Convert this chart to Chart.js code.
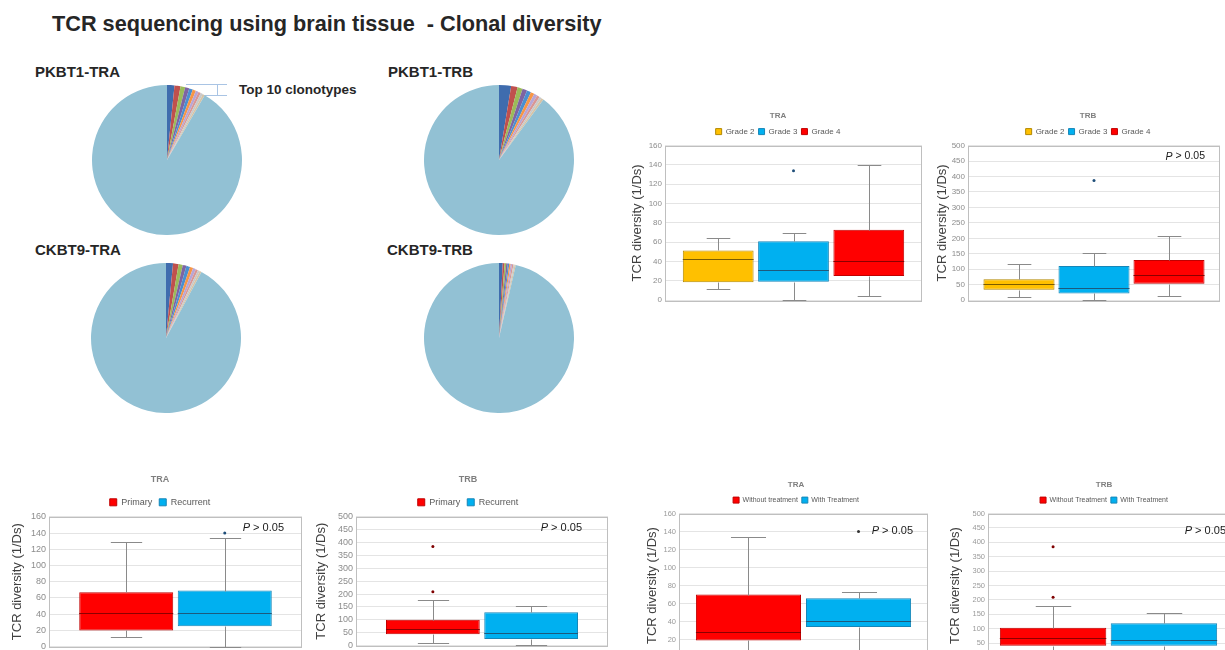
<!DOCTYPE html>
<html>
<head>
<meta charset="utf-8">
<script src="https://cdn.jsdelivr.net/npm/chart.js@4.4.1/dist/chart.umd.min.js"></script>
<style>
  html, body { margin: 0; padding: 0; background: #fff; }
  body { width: 1225px; height: 650px; overflow: hidden; position: relative;
         font-family: "Liberation Sans", Arial, sans-serif; }
  .txt { position: absolute; white-space: pre; line-height: 1; color: #262626; font-weight: bold; }
  #mainTitle { left: 52px; top: 13px; font-size: 21.7px; }
  .pieLabel { font-size: 15px; }
  #top10 { left: 239px; top: 83px; font-size: 13.5px; }
  canvas { position: absolute; }
  svg { position: absolute; left: 0; top: 0; }
</style>
</head>
<body>
<div id="mainTitle" class="txt">TCR sequencing using brain tissue  - Clonal diversity</div>
<div class="txt pieLabel" style="left:35px;top:64px">PKBT1-TRA</div>
<div class="txt pieLabel" style="left:388px;top:64px">PKBT1-TRB</div>
<div class="txt pieLabel" style="left:35px;top:242px">CKBT9-TRA</div>
<div class="txt pieLabel" style="left:387px;top:242px">CKBT9-TRB</div>
<div id="top10" class="txt">Top 10 clonotypes</div>
<svg width="240" height="110">
  <path d="M186 84.5 H227 M217.5 84 V95 M200 95.5 H227" stroke="#a9c4e4" stroke-width="1" fill="none"/>
</svg>

<canvas id="pie1" width="150" height="150" style="left:92px;top:85px"></canvas>
<canvas id="pie2" width="150" height="150" style="left:424px;top:85px"></canvas>
<canvas id="pie3" width="150" height="150" style="left:91px;top:263px"></canvas>
<canvas id="pie4" width="150" height="150" style="left:424px;top:263px"></canvas>

<canvas id="boxTraGrade"></canvas>
<canvas id="boxTrbGrade"></canvas>
<canvas id="boxTraStage"></canvas>
<canvas id="boxTrbStage"></canvas>
<canvas id="boxTraTreat"></canvas>
<canvas id="boxTrbTreat"></canvas>

<script>
// ---- Clonotype shares (%) : top 10 clonotypes, then all remaining clonotypes ----
const clonotypeLabels = ['Clone 1','Clone 2','Clone 3','Clone 4','Clone 5','Clone 6','Clone 7','Clone 8','Clone 9','Clone 10','Other clonotypes'];
const pkbt1Tra = [1.6, 1.3, 1.0, 0.9, 0.8, 0.7, 0.6, 0.55, 0.5, 0.45, 91.6];
const pkbt1Trb = [2.6, 1.4, 1.1, 1.0, 0.9, 0.8, 0.7, 0.6, 0.5, 0.5, 89.9];
const ckbt9Tra = [1.5, 1.2, 0.9, 0.8, 0.8, 0.7, 0.6, 0.5, 0.45, 0.4, 92.15];
const ckbt9Trb = [0.8, 0.4, 0.35, 0.35, 0.3, 0.3, 0.3, 0.3, 0.25, 0.25, 96.4];
const clonotypeColors = ['#3f6cae','#c0504d','#9bbb59','#7e64a2','#4a8fd0','#f79646',
                         '#b7a6d6','#d99694','#c9c9c9','#d6c3a5','#92c1d4'];

// ---- Box plot statistics: [min, Q1, median, Q3, max] per group ----
const gradeGroups = ['Grade 2', 'Grade 3', 'Grade 4'];
const stageGroups = ['Primary', 'Recurrent'];
const treatGroupsTra = ['Without treatment', 'With Treatment'];
const treatGroupsTrb = ['Without Treatment', 'With Treatment'];

const traGrade = [[11.5, 18.5, 43, 51.5, 64], [0, 19, 31, 61, 70], [4, 25, 41, 73, 139.5]];
const traGradeOutliers = [[], [134], []];
const trbGrade = [[11, 34, 52, 68, 116], [2, 22, 39, 111, 152], [13, 53, 83, 130, 208]];
const trbGradeOutliers = [[], [387], []];

const traStage = [[12, 20, 41, 67, 129], [0, 25, 42, 69, 134]];
const traStageOutliers = [[], [140]];
const trbStage = [[9, 44, 64, 100, 178], [2, 26, 48, 129, 152]];
const trbStageOutliers = [[385, 209], []];

const traTreat = [[4, 19, 28, 70, 134], [0, 34, 41, 66, 73]];
const traTreatOutliers = [[], [140]];
const trbTreat = [[10, 41, 68, 103, 178], [2, 41, 61, 119, 153]];
const trbTreatOutliers = [[385, 209], []];

// y-axis ranges: [max, step]
const traAxis = [160, 20];
const trbAxis = [500, 50];

Chart.defaults.font.family = '"Liberation Sans", Arial, sans-serif';
Chart.defaults.animation = false;

const YELLOW = '#ffc000', BLUE = '#00b0f0', RED = '#ff0000';
const EDGE = { [YELLOW]: '#b38900', [BLUE]: '#1686b8', [RED]: '#c00000' };
const MEDIAN = { [YELLOW]: '#7a5c00', [BLUE]: '#1d5a7d', [RED]: '#8b0000' };
const DOT = { [YELLOW]: '#7a5c00', [BLUE]: '#1f4e79', [RED]: '#7f0000' };

// ---- Pie charts ----
function drawPie(id, values) {
  new Chart(document.getElementById(id), {
    type: 'pie',
    data: { labels: clonotypeLabels,
            datasets: [{ data: values, backgroundColor: clonotypeColors, borderWidth: 0, hoverOffset: 0 }] },
    options: { responsive: false, layout: { padding: 0 },
               plugins: { legend: { display: false }, tooltip: { enabled: false } } }
  });
}
drawPie('pie1', pkbt1Tra);
drawPie('pie2', pkbt1Trb);
drawPie('pie3', ckbt9Tra);
drawPie('pie4', ckbt9Trb);

// ---- Box plot helpers (plugins) ----
const plotFrame = {
  id: 'plotFrame',
  beforeDatasetsDraw(chart) {
    const a = chart.chartArea, ctx = chart.ctx;
    ctx.save();
    ctx.strokeStyle = '#bfbfbf';
    ctx.lineWidth = 1;
    ctx.strokeRect(Math.round(a.left) + 0.5, Math.round(a.top) + 0.5,
                   Math.round(a.right - a.left) - 1, Math.round(a.bottom - a.top));
    ctx.restore();
  }
};

const whiskers = {
  id: 'whiskers',
  afterDatasetsDraw(chart, args, opts) {
    const ctx = chart.ctx, ys = chart.scales.y;
    const py = v => Math.round(ys.getPixelForValue(v)) + 0.5;
    opts.stats.forEach((s, i) => {
      const bar = chart.getDatasetMeta(i).data[0];
      const x = Math.round(bar.x) + 0.5, half = bar.width / 2, cap = bar.width / 6;
      ctx.save();
      ctx.lineWidth = 1;
      ctx.strokeStyle = '#8a8a8a';
      ctx.beginPath();
      ctx.moveTo(x, py(s[3])); ctx.lineTo(x, py(s[4]));
      ctx.moveTo(x - cap, py(s[4])); ctx.lineTo(x + cap, py(s[4]));
      ctx.moveTo(x, py(s[1])); ctx.lineTo(x, py(s[0]));
      ctx.moveTo(x - cap, py(s[0])); ctx.lineTo(x + cap, py(s[0]));
      ctx.stroke();
      ctx.strokeStyle = opts.medians[i];
      ctx.beginPath();
      ctx.moveTo(bar.x - half, py(s[2])); ctx.lineTo(bar.x + half, py(s[2]));
      ctx.stroke();
      ctx.fillStyle = opts.dots[i];
      opts.outliers[i].forEach(v => {
        ctx.beginPath();
        ctx.arc(bar.x, ys.getPixelForValue(v), 1.5, 0, Math.PI * 2);
        ctx.fill();
      });
      ctx.restore();
    });
  }
};

const pNote = {
  id: 'pNote',
  afterDraw(chart, args, opts) {
    if (!opts.show) return;
    const ctx = chart.ctx, a = chart.chartArea;
    const fam = '"Liberation Sans", Arial, sans-serif';
    ctx.save();
    ctx.fillStyle = '#1a1a1a';
    ctx.textBaseline = 'middle';
    ctx.font = `italic ${opts.size}px ${fam}`;
    const wP = ctx.measureText('P').width;
    ctx.font = `${opts.size}px ${fam}`;
    const rest = ' > 0.05';
    const wR = ctx.measureText(rest).width;
    const x0 = a.right - opts.dx - wP - wR, y = a.top + opts.dy;
    ctx.font = `italic ${opts.size}px ${fam}`;
    ctx.fillText('P', x0, y);
    ctx.font = `${opts.size}px ${fam}`;
    ctx.fillText(rest, x0 + wP, y);
    ctx.restore();
  }
};

// Keeps the chart title and legend centred on a chosen x inside the canvas
const headCenter = {
  id: 'headCenter',
  afterLayout(chart, args, opts) {
    [chart.titleBlock, chart.legend].forEach(b => {
      if (!b) return;
      const d = opts.x - (b.left + b.right) / 2;
      b.left += d; b.right += d;
    });
  }
};

function drawBox(id, g) {
  const cv = document.getElementById(id);
  cv.width = g.w; cv.height = g.h;
  cv.style.left = g.x + 'px'; cv.style.top = g.y + 'px';
  const datasets = g.groups.map((name, i) => ({
    label: name,
    data: [[g.stats[i][1], g.stats[i][3]]],
    backgroundColor: g.fills[i],
    borderColor: EDGE[g.fills[i]],
    borderWidth: 1,
    borderSkipped: false,
    barPercentage: g.bar,
    categoryPercentage: g.cat
  }));
  new Chart(cv, {
    type: 'bar',
    data: { labels: [''], datasets },
    options: {
      responsive: false,
      layout: { padding: 0 },
      scales: {
        x: { display: false },
        y: {
          min: 0, max: g.axis[0],
          ticks: { stepSize: g.axis[1], autoSkip: false, color: g.tickColor,
                   font: { size: g.tickSize }, padding: 3 },
          grid: { color: '#e4e4e4', drawTicks: false },
          border: { display: false },
          title: { display: true, text: 'TCR diversity (1/Ds)', color: '#404040',
                   font: { size: 13 }, padding: { top: 4, bottom: 4 } },
          afterFit: s => { s.width = g.yWidth; }
        }
      },
      plugins: {
        title: { display: true, text: g.title, color: '#7f7f7f',
                 font: { size: g.titleSize, weight: 'bold' }, padding: { top: 4, bottom: g.tb } },
        legend: { display: true, position: 'top',
                  labels: { boxWidth: g.box, boxHeight: g.box, padding: g.lp, color: '#595959',
                            font: { size: g.legendSize } } },
        tooltip: { enabled: false },
        whiskers: { stats: g.stats, outliers: g.outliers,
                    medians: g.fills.map(c => MEDIAN[c]), dots: g.dots || g.fills.map(c => DOT[c]) },
        pNote: { show: g.p !== undefined, size: g.p ? g.p[0] : 11, dx: g.p ? g.p[1] : 0, dy: g.p ? g.p[2] : 0 },
        headCenter: { x: g.headX - g.x }
      }
    },
    plugins: [plotFrame, whiskers, pNote, headCenter]
  });
}

drawBox('boxTraGrade', {
  x: 626, y: 107, w: 296, h: 201, yWidth: 39, headX: 778,
  title: 'TRA', groups: gradeGroups, stats: traGrade, outliers: traGradeOutliers,
  fills: [YELLOW, BLUE, RED], axis: traAxis, cat: 0.879, bar: 0.94,
  titleSize: 8, legendSize: 8, tickSize: 8, tickColor: '#8c8c8c', box: 6, tb: 3, lp: 4
});
drawBox('boxTrbGrade', {
  x: 931, y: 107, w: 289, h: 201, yWidth: 37, headX: 1088,
  title: 'TRB', groups: gradeGroups, stats: trbGrade, outliers: trbGradeOutliers,
  fills: [YELLOW, BLUE, RED], axis: trbAxis, cat: 0.893, bar: 0.947,
  titleSize: 8, legendSize: 8, tickSize: 8, tickColor: '#8c8c8c', box: 6, tb: 3, lp: 4,
  p: [10.5, 15, 11]
});
drawBox('boxTraStage', {
  x: 6, y: 470, w: 296, h: 185, yWidth: 43, headX: 160,
  title: 'TRA', groups: stageGroups, stats: traStage, outliers: traStageOutliers,
  fills: [RED, BLUE], axis: traAxis, cat: 0.779, bar: 0.954,
  titleSize: 9, legendSize: 9, tickSize: 9, tickColor: '#8c8c8c', box: 7, tb: 6, lp: 7,
  p: [11, 18, 11]
});
drawBox('boxTrbStage', {
  x: 310, y: 470, w: 298, h: 184, yWidth: 46, headX: 468,
  title: 'TRB', groups: stageGroups, stats: trbStage, outliers: trbStageOutliers,
  fills: [RED, BLUE], axis: trbAxis, cat: 0.78, bar: 0.954,
  titleSize: 9, legendSize: 9, tickSize: 9, tickColor: '#8c8c8c', box: 7, tb: 6, lp: 7,
  p: [11, 26, 11]
});
drawBox('boxTraTreat', {
  x: 641, y: 476, w: 287, h: 189, yWidth: 38, headX: 796,
  title: 'TRA', groups: treatGroupsTra, stats: traTreat, outliers: traTreatOutliers,
  fills: [RED, BLUE], dots: ['#7f0000', '#333333'], axis: traAxis, cat: 0.884, bar: 0.955,
  titleSize: 8, legendSize: 7, tickSize: 7.5, tickColor: '#9a9a9a', box: 6, tb: 3, lp: 4,
  p: [11, 15, 17]
});
drawBox('boxTrbTreat', {
  x: 944, y: 476, w: 285, h: 189, yWidth: 44, headX: 1104,
  title: 'TRB', groups: treatGroupsTrb, stats: trbTreat, outliers: trbTreatOutliers,
  fills: [RED, BLUE], axis: trbAxis, cat: 0.92, bar: 0.96,
  titleSize: 8, legendSize: 7, tickSize: 7.5, tickColor: '#9a9a9a', box: 6, tb: 3, lp: 4,
  p: [11, 3, 17]
});
</script>
</body>
</html>
